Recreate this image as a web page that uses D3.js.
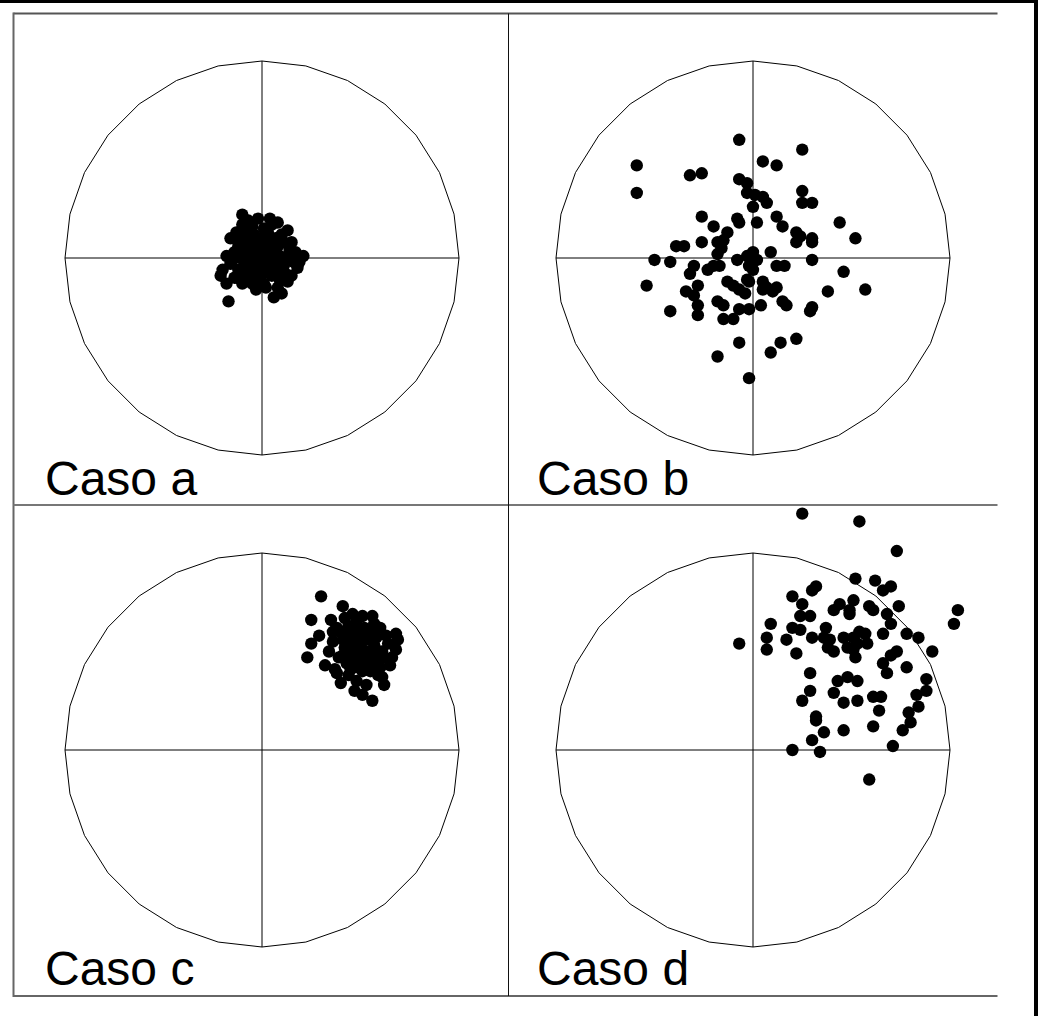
<!DOCTYPE html>
<html>
<head>
<meta charset="utf-8">
<script src="https://cdn.jsdelivr.net/npm/d3@7"></script>
<style>
  body { margin: 0; background: #fff; }
  svg { display: block; }
</style>
</head>
<body>
<script>
// points are in units of the circle radius (radius = 100)
const casoA = [
  [-17,-22],[6,-20],[21,1],[-10,22],[-10,17],[4,20],[8,18],[13,14],[-16,10],[-21,-9],[-20,-6],[-13,-10],
  [-5,-13],[-3,-16],[18,-5],[2,-15],[-12,6],[-8,9],[-4,12],[0,10],[3,13],[7,10],[11,8],[14,4],[16,-2],
  [12,-8],[9,-11],[5,-9],[0,-8],[-4,-6],[-8,-3],[-11,0],[-14,3],[-16,-3],[-12,-6],[-6,2],[-2,4],[2,6],
  [6,4],[9,1],[11,-4],[6,-4],[2,-2],[-2,-1],[-7,6],[-9,13],[-5,16],[1,15],[10,12],[15,8],[17,3],[13,-12],
  [8,-15],[-1,-11],[-9,-8],[-15,-1],[-18,1],[-13,13],[4,0],[-3,8],[8,6],[-6,-10],[3,-6],[12,-1],[-10,-13],
  [0,2],[5,17],[-7,19],[15,-9],[19,-2],[-18,-13],[10,-18],[-2,20],[7,-1],[-14,-10],
  [-9,4],[-5,-3],[1,-4],[5,8],[-1,6],[3,3],[-7,-6],[10,-7],[-3,-8],[1,-13],[-11,9],[13,1]
];

const casoB = [
  [-7,60],[25,55],[-59,47],[5,49],[12,47],[-32,42],[-26,43],[-59,33],[-7,40],[-3,38],[-3,33],[1,32],
  [5,31],[7,28],[0,26],[25,34],[25,28],[30,28],[-26,21],[-8,20],[-7,18],[2,18],[12,21],[15,16],[-20,16],
  [-13,13],[22,13],[24,11],[22,8],[30,10],[30,8],[44,18],[52,10],[-39,6],[-35,6],[-26,8],[-18,8],[-15,9],
  [-16,5],[-18,2],[-50,-1],[-42,-2],[-30,-4],[-32,-8],[-23,-6],[-20,-4],[-17,-4],[-8,-1],[-3,1],[0,3],
  [2,-1],[-2,-4],[0,-6],[9,3],[12,-4],[16,-4],[30,-1],[46,-7],[-54,-14],[-28,-14],[-34,-17],[-30,-19],
  [-13,-12],[-10,-14],[-7,-16],[-4,-18],[-3,-11],[-2,-12],[5,-12],[7,-15],[5,-16],[12,-15],[10,-17],
  [15,-22],[17,-24],[38,-17],[57,-16],[-28,-24],[-28,-29],[-18,-22],[-15,-24],[-42,-27],[-15,-31],
  [-10,-31],[-7,-26],[-2,-26],[4,-24],[29,-27],[30,-25],[-7,-43],[-18,-50],[9,-48],[14,-43],[22,-41],[-2,-61]
];

const casoC = [
  [30,78],[41,73],[25,66],[29,58],[25,54],[23,47],[51,28],[56,25],[68,59],[69,56],[51,68],[56,68],
  [61,37],[40,34],[35,66],[68,51],[65,43],[47,30],[37,41],[32,43],[40,60],[44,63],[48,65],[52,62],
  [56,60],[60,62],[63,58],[45,57],[49,55],[53,56],[57,53],[61,50],[42,52],[46,49],[50,48],[54,47],
  [58,45],[62,47],[39,47],[43,44],[47,42],[51,40],[55,40],[59,38],[44,38],[48,35],[53,33],[36,55],
  [38,62],[34,50],[64,54],[66,47],[57,64],[46,69],[42,67],[50,52],[55,50],[45,46],[60,42],[52,45],
  [38,39],[62,33],[36,60],[49,61],[41,56],
  [47,58],[51,59],[44,54],[48,51],[53,50],[57,48],[41,48],[45,41],[50,44],[56,43],[58,57],[43,60]
];

const casoD = [
  [25,120],[54,116],[73,101],[52,87],[62,86],[66,81],[70,83],[32,83],[30,81],[20,78],[25,74],[41,71],
  [44,74],[49,71],[51,76],[49,69],[59,73],[61,71],[74,73],[68,69],[104,71],[102,64],[24,68],[29,68],
  [9,64],[20,62],[24,61],[37,62],[7,57],[17,56],[30,57],[7,51],[-7,54],[22,49],[36,57],[39,56],[38,52],
  [41,50],[46,57],[48,52],[51,57],[53,54],[54,60],[57,59],[58,54],[51,51],[52,47],[66,59],[70,64],
  [78,59],[84,57],[91,50],[73,50],[70,48],[66,44],[68,39],[78,42],[29,39],[43,35],[48,37],[53,35],
  [88,36],[88,30],[83,28],[29,30],[25,25],[41,29],[46,24],[53,25],[61,27],[65,27],[64,20],[84,22],
  [79,19],[80,14],[76,10],[32,17],[32,15],[36,9],[30,5],[46,10],[61,12],[20,0],[34,-1],[71,2],[59,-15]
];

const labels = ['Caso a', 'Caso b', 'Caso c', 'Caso d'];
const series = [casoA, casoB, casoC, casoD];

const W = 1038, H = 1016;
const frameL = 13.5, frameR = 997.5, frameT = 13.5, frameB = 996;
const midX = 508.5, midY = 505;
const R = 197;
const centers = [[262, 258], [753, 258], [262, 750], [753, 750]];
const labelPos = [[45, 495], [537, 495], [45, 985], [537, 985]];

const svg = d3.select('body')
  .append('svg')
  .attr('width', W)
  .attr('height', H);

// outer frame (only top and right show)
svg.append('rect').attr('x', 0).attr('y', 0).attr('width', W).attr('height', 3).attr('fill', '#000');
svg.append('rect').attr('x', 1034).attr('y', 0).attr('width', 4).attr('height', H).attr('fill', '#000');

// panel grid: left, top, bottom edges and the two dividers (no right edge)
const gridLines = [
  { x1: frameL, y1: frameT, x2: frameR, y2: frameT, c: '#555', w: 2 },
  { x1: frameL, y1: frameB, x2: frameR, y2: frameB, c: '#666', w: 2 },
  { x1: frameL, y1: frameT - 1, x2: frameL, y2: frameB + 1, c: '#666', w: 2 },
  { x1: frameL, y1: midY, x2: frameR, y2: midY, c: '#777', w: 2 },
  { x1: midX, y1: frameT, x2: midX, y2: frameB, c: '#111', w: 1 }
];

svg.selectAll('.grid')
  .data(gridLines)
  .enter().append('line')
  .attr('class', 'grid')
  .attr('x1', d => d.x1).attr('y1', d => d.y1)
  .attr('x2', d => d.x2).attr('y2', d => d.y2)
  .attr('stroke', d => d.c)
  .attr('stroke-width', d => d.w);

const nSides = 28;
const ring = d3.range(nSides + 1).map(i => 2 * Math.PI * i / nSides);

series.forEach((pts, i) => {
  const [cx, cy] = centers[i];
  const x = d3.scaleLinear().domain([-100, 100]).range([cx - R, cx + R]);
  const y = d3.scaleLinear().domain([-100, 100]).range([cy + R, cy - R]);

  const g = svg.append('g');

  const circleLine = d3.line()
    .x(a => x(100 * Math.sin(a)))
    .y(a => y(100 * Math.cos(a)));

  g.append('path')
    .attr('d', circleLine(ring))
    .attr('fill', 'none')
    .attr('stroke', '#000')
    .attr('stroke-width', 1);

  g.append('line')
    .attr('x1', x(-100)).attr('x2', x(100))
    .attr('y1', y(0)).attr('y2', y(0))
    .attr('stroke', '#000');

  g.append('line')
    .attr('x1', x(0)).attr('x2', x(0))
    .attr('y1', y(-100)).attr('y2', y(100))
    .attr('stroke', '#000');

  g.selectAll('.dot')
    .data(pts)
    .enter().append('circle')
    .attr('class', 'dot')
    .attr('cx', d => x(d[0]))
    .attr('cy', d => y(d[1]))
    .attr('r', 6.2)
    .attr('fill', '#000');

  svg.append('text')
    .attr('x', labelPos[i][0])
    .attr('y', labelPos[i][1])
    .attr('font-family', 'Liberation Sans, Arial, sans-serif')
    .attr('font-size', 48)
    .attr('fill', '#000')
    .text(labels[i]);
});
</script>
</body>
</html>
